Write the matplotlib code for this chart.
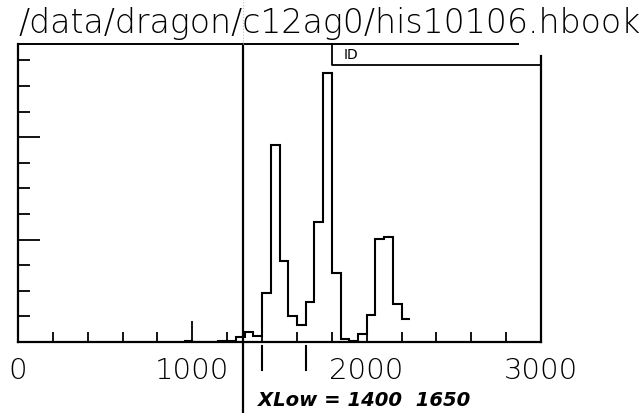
import numpy as np
import matplotlib
matplotlib.use("Agg")
import matplotlib.pyplot as plt
from matplotlib.ticker import MultipleLocator, FixedLocator
import matplotlib.transforms as mtransforms

# ---- data ----
bin_width = 50
bin_left = [950, 1000, 1050, 1100, 1150, 1200, 1250, 1300, 1350, 1400, 1450,
            1500, 1550, 1600, 1650, 1700, 1750, 1800, 1850, 1900, 1950, 2000,
            2050, 2100, 2150, 2200]
counts = [1, 0, 0, 0, 1, 1, 5, 10, 6, 48, 192, 79, 25, 17, 39, 117, 263, 67,
          3, 1, 8, 26, 101, 103, 37, 22]
x_ticklabels = ["0", "1000", "2000", "3000"]
x_major = [0, 1000, 2000, 3000]
title = "/data/dragon/c12ag0/his10106.hbook"
id_label = "ID"
cut_line_x = 1290
xlow_marks = [1400, 1650]
note = "XLow = 1400  1650"

edges = list(bin_left) + [bin_left[-1] + bin_width]

W, H = 643, 414
fig = plt.figure(figsize=(W / 100, H / 100), dpi=100)
ax = fig.add_axes([18 / W, (H - 343) / H, 523 / W, 298 / H])

ax.stairs(counts, edges, color="black", lw=1.5, baseline=None)
ax.set_xlim(0, 3000)
ax.set_ylim(0, 291)

for s in ["top", "right"]:
    ax.spines[s].set_visible(False)
for s in ["left", "bottom"]:
    ax.spines[s].set_linewidth(1.6)

# partial top line and right line (as in the reference)
ax.plot([0, 0.956], [1, 1], transform=ax.transAxes, color="black", lw=1.4, clip_on=False)
ax.plot([1, 1], [0, 0.96], transform=ax.transAxes, color="black", lw=1.6, clip_on=False)
# ID box
ax.plot([0.60, 0.60, 1.0], [1.0, 0.93, 0.93], transform=ax.transAxes,
        color="black", lw=1.3, clip_on=False)
ax.text(0.622, 0.965, id_label, transform=ax.transAxes, fontsize=10,
        va="center", ha="left", color="black")

ax.xaxis.set_major_locator(FixedLocator(x_major))
ax.xaxis.set_minor_locator(MultipleLocator(200))
ax.yaxis.set_major_locator(MultipleLocator(100))
ax.yaxis.set_minor_locator(MultipleLocator(25))
ax.set_xticklabels(x_ticklabels)
ax.tick_params(axis="x", which="major", direction="in", length=15, width=1.3,
               labelsize=21, pad=10, top=False)
ax.tick_params(axis="x", which="minor", direction="in", length=7, width=1.3, top=False)
ax.tick_params(axis="y", which="major", direction="in", length=16, width=1.3,
               labelleft=False, right=False)
ax.tick_params(axis="y", which="minor", direction="in", length=8.5, width=1.3, right=False)
for lab in ax.get_xticklabels():
    lab.set_fontweight("light")

# vertical cut line through the whole picture
trans = mtransforms.blended_transform_factory(ax.transData, ax.transAxes)
ax.plot([cut_line_x, cut_line_x], [1.0, -0.24], transform=trans, color="black",
        lw=1.6, clip_on=False)
ax.plot([cut_line_x, cut_line_x], [1.0, 1.15], transform=trans, color="#bbbbbb",
        lw=0.8, ls=":", clip_on=False)
# hand marks below axis
for xm in xlow_marks:
    ax.plot([xm, xm], [-0.013, -0.095], transform=trans, color="black",
            lw=1.5, clip_on=False)

t = fig.text(18 / W, 1 - 33 / H, title, fontsize=26, fontweight="light",
             ha="left", va="baseline")
n = fig.text(258 / W, 1 - 406 / H, note, fontsize=16, style="italic",
             fontweight="bold", ha="left", va="baseline")

# fit text widths to the reference
renderer = fig.canvas.get_renderer()
for txt, target in [(t, 622), (n, 212)]:
    w = txt.get_window_extent(renderer).width
    txt.set_fontsize(txt.get_fontsize() * target / w)

fig.savefig("out.png", dpi=100)
